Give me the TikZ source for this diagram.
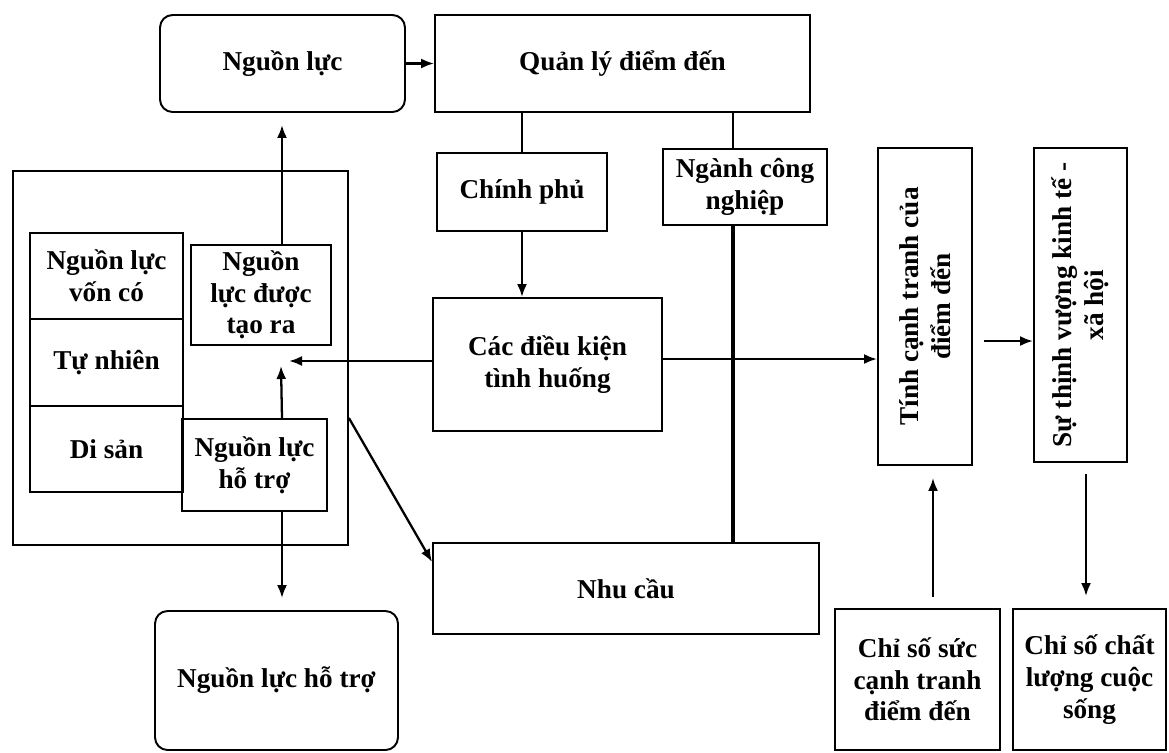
\documentclass[tikz,border=0pt]{standalone}
\usepackage{fontspec}
\setmainfont{Liberation Serif}
\usetikzlibrary{arrows.meta}

\begin{document}
\begin{tikzpicture}[x=0.02cm, y=-0.02cm,
                every node/.style={font=\fontsize{15.5}{18}\selectfont\bfseries},
                box/.style={draw, line width=1.1pt, align=center, inner sep=2pt},
                rbox/.style={box, rounded corners=0.25cm},
                arr/.style={line width=1.3pt, -{Latex[length=2.6mm,width=2mm]}},
                ln/.style={line width=1.3pt},
                openend/.style={shorten >=0.24cm},
                openstart/.style={shorten <=0.22cm}]
                \useasboundingbox (0,0) rectangle (1169,752);

                % khung nguon luc
                \node[box, minimum width=6.7cm, minimum height=7.48cm] (khung) at (180.5,358) {};
                \node[box, minimum width=3.06cm, minimum height=1.72cm] (von) at (106.5,276) {Nguồn lực\\vốn có};
                \node[box, minimum width=3.06cm, minimum height=1.74cm] (tn) at (106.5,362.5) {Tự nhiên};
                \node[box, minimum width=3.06cm, minimum height=1.72cm] (ds) at (106.5,449) {Di sản};
                \node[box, minimum width=2.8cm, minimum height=2cm] (tao) at (261,295) {Nguồn\\lực được\\tạo ra};
                \node[box, minimum width=2.9cm, minimum height=1.84cm] (htn) at (254.5,465) {Nguồn lực\\hỗ trợ};

                \node[rbox, minimum width=4.9cm, minimum height=1.94cm] (nl) at (282.5,63.5) {Nguồn lực};
                \node[box, minimum width=7.5cm, minimum height=1.94cm] (ql) at (622.5,63.5) {Quản lý điểm đến};
                \node[box, minimum width=3.4cm, minimum height=1.56cm] (cp) at (522,192) {Chính phủ};
                \node[box, minimum width=3.28cm, minimum height=1.52cm] (ng) at (745,187) {Ngành công\\nghiệp};
                \node[box, minimum width=4.58cm, minimum height=2.66cm] (dk) at (547.5,364.5) {Các điều kiện\\tình huống};
                \node[box, minimum width=7.72cm, minimum height=1.82cm] (nhu) at (626,588.5) {Nhu cầu};
                \node[rbox, minimum width=4.86cm, minimum height=2.78cm] (hbig) at (276.5,680.5) {Nguồn lực hỗ trợ};

                % rotated: .north is the left side, .south the right side
                \node[box, rotate=90, minimum width=6.34cm, minimum height=1.88cm] (tcc) at (925,306.5) {Tính cạnh tranh của\\điểm đến};
                \node[box, rotate=90, minimum width=6.28cm, minimum height=1.86cm] (stv) at (1080.5,305) {Sự thịnh vượng kinh tế -\\xã hội};
                \node[box, minimum width=3.3cm, minimum height=2.82cm] (cs1) at (917.5,679.5) {Chỉ số sức\\cạnh tranh\\điểm đến};
                \node[box, minimum width=3.06cm, minimum height=2.82cm] (cs2) at (1089.5,679.5) {Chỉ số chất\\lượng cuộc\\sống};

                \coordinate (col) at (282,0);
                \coordinate (upend) at (281,366);
                \coordinate (leftend) at (289,361);
                \coordinate (bus) at (733,0);
                \coordinate (rowa) at (0,359);
                \coordinate (rowb) at (0,341);
                \coordinate (kc) at (933,0);
                \coordinate (md) at (1086,0);

                \draw[arr] (nl.east) -- (ql.west);
                \draw[ln] (ql.south -| cp.north) -- (cp.north);
                \draw[arr] (cp.south) -- (cp.south |- dk.north);
                \draw[ln] (ql.south -| bus) -- (ng.north -| bus);
                \draw[line width=2.4pt] (ng.south -| bus) -- (nhu.north -| bus);

                \draw[arr, openend] (tao.north -| col) -- (nl.south -| col);
                \draw[arr] (htn.north -| col) -- (upend);
                \draw[arr] (dk.west |- leftend) -- (leftend);
                \draw[arr, openend] (htn.south -| col) -- (hbig.north -| col);
                \draw[arr] (khung.east |- htn.north) -- ([yshift=-0.4cm]nhu.north west);

                \draw[arr] (dk.east |- rowa) -- (tcc.north |- rowa);
                \draw[arr, openstart] (tcc.south |- rowb) -- (stv.north |- rowb);
                \draw[arr, openstart, openend] (cs1.north -| kc) -- (tcc.west -| kc);
                \draw[arr, openstart, openend] (stv.west -| md) -- (cs2.north -| md);
            \end{tikzpicture}
\end{document}
